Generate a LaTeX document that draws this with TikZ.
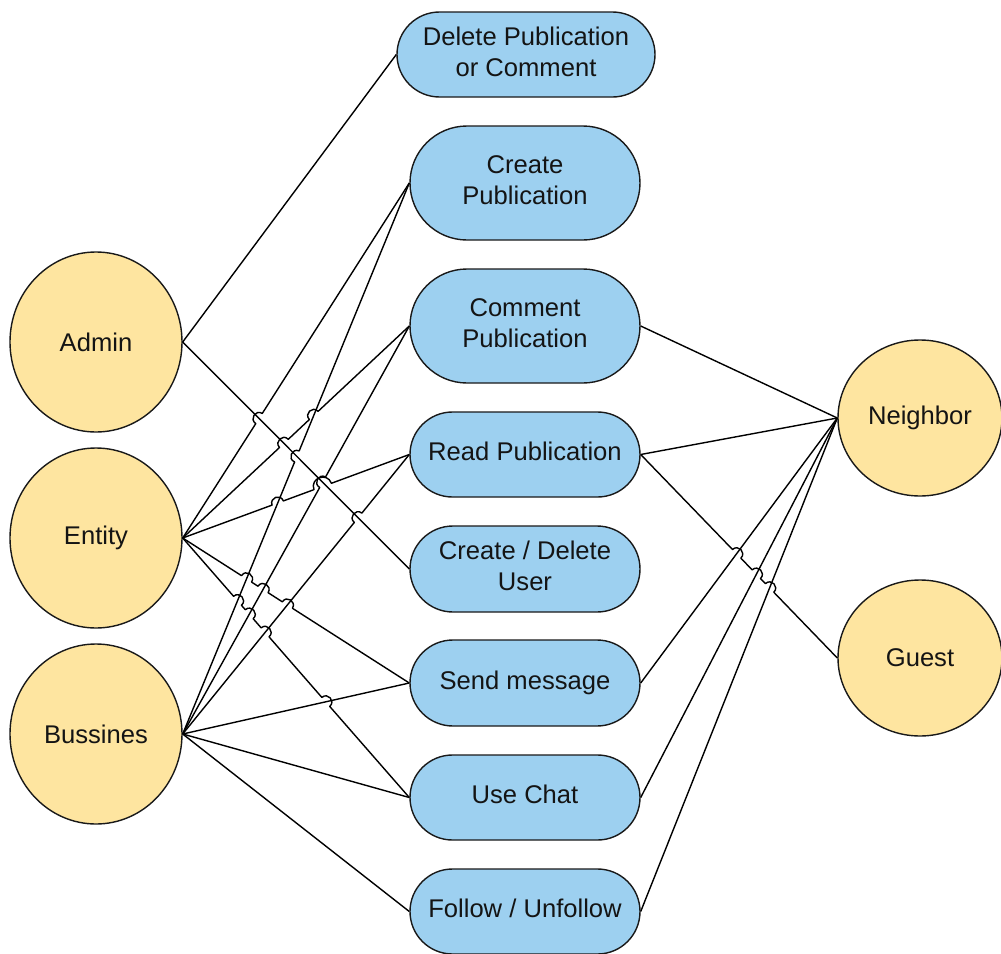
\documentclass[tikz,border=0pt]{standalone}
\usepackage{fontspec}
\setmainfont{Liberation Sans}
\usetikzlibrary{shapes.geometric,shapes.misc,calc}

\definecolor{actorfill}{RGB}{254,229,160}
\definecolor{casefill}{RGB}{157,208,240}
\definecolor{outline}{RGB}{25,25,25}
\definecolor{ink}{RGB}{20,20,20}

% text of a use case, kept out of the shape's size computation
\newcommand\uctext[1]{\makebox[0pt]{\begin{tabular}{@{}c@{}}#1\end{tabular}}}

% hop of one line over another: #1 name, #2--#3 hopping line, #4--#5 crossed line
\def\hoprad{3pt}
\newcommand\mkhop[5]{%
  \coordinate (#1) at (intersection of #2--#3 and #4--#5);
  \coordinate (#1a) at ($(#1)!\hoprad!(#2)$);
  \coordinate (#1b) at ($(#1)!\hoprad!(#3)$);
  \coordinate (#1p) at ($(#1a)!0.6667!90:(#1b)$);
  \coordinate (#1q) at ($(#1b)!0.6667!-90:(#1a)$);
}

\begin{document}
\begin{tikzpicture}[x=0.5pt,y=-0.5pt,
  label font/.style={font=\fontsize{12.8}{15.5}\selectfont, text=ink},
  actor/.style={ellipse, draw=outline, line width=0.7pt, fill=actorfill,
    inner sep=0pt, label font},
  bigactor/.style={actor, minimum width=86pt, minimum height=90pt},
  smallactor/.style={actor, minimum width=82pt, minimum height=78pt},
  usecase/.style={rounded rectangle, draw=outline, line width=0.7pt,
    fill=casefill, inner sep=0pt, minimum width=115pt, label font},
  conn/.style={draw=black, line width=0.7pt, line join=round}
]
\useasboundingbox (0,0) rectangle (1001,953);

% actors
\node[bigactor] (admin) at (96,342) {Admin};
\node[bigactor] (entity) at (96,538) {Entity};
\node[bigactor] (biz) at (96,734) {Bussines};
\node[smallactor] (neighbor) at (920,418) {Neighbor};
\node[smallactor] (guest) at (920,658) {Guest};

% use cases
\node[usecase, minimum width=129pt, minimum height=42.5pt] (dp) at (526,54.5)
  {\uctext{Delete Publication\\or Comment}};
\node[usecase, minimum height=57pt] (cp) at (525,183) {\uctext{Create\\Publication}};
\node[usecase, minimum height=57pt] (cm) at (525,326) {\uctext{Comment\\Publication}};
\node[usecase, minimum height=42.5pt] (rp) at (525,454.5) {\uctext{Read Publication}};
\node[usecase, minimum height=43pt] (cu) at (525,569) {\uctext{Create / Delete\\User}};
\node[usecase, minimum height=43pt] (sm) at (525,683) {\uctext{Send message}};
\node[usecase, minimum height=42.5pt] (uc) at (525,797.5) {\uctext{Use Chat}};
\node[usecase, minimum height=42.5pt] (fu) at (525,911.5) {\uctext{Follow / Unfollow}};

% crossing points where a later line hops over an earlier one
\mkhop{h1}{biz.east}{cp.west}{admin.east}{cu.west}
\mkhop{h2}{biz.east}{cm.west}{admin.east}{cu.west}
\mkhop{h3}{biz.east}{rp.west}{admin.east}{cu.west}
\mkhop{h4}{entity.east}{cp.west}{admin.east}{cu.west}
\mkhop{h5}{entity.east}{cm.west}{admin.east}{cu.west}
\mkhop{h6}{entity.east}{cm.west}{biz.east}{cp.west}
\mkhop{h7}{entity.east}{rp.west}{biz.east}{cp.west}
\mkhop{h8}{entity.east}{sm.west}{biz.east}{cp.west}
\mkhop{h9}{entity.east}{sm.west}{biz.east}{cm.west}
\mkhop{h10}{entity.east}{sm.west}{biz.east}{rp.west}
\mkhop{h11}{entity.east}{uc.west}{biz.east}{cp.west}
\mkhop{h12}{entity.east}{uc.west}{biz.east}{cm.west}
\mkhop{h13}{entity.east}{uc.west}{biz.east}{rp.west}
\mkhop{h14}{entity.east}{uc.west}{biz.east}{sm.west}
\mkhop{h15}{rp.east}{guest.west}{sm.east}{neighbor.west}
\mkhop{h16}{rp.east}{guest.west}{uc.east}{neighbor.west}
\mkhop{h17}{rp.east}{guest.west}{fu.east}{neighbor.west}

% one wide hop where two crossings lie close together
\coordinate (m1) at (intersection of entity.east--rp.west and biz.east--cm.west);
\coordinate (m2) at (intersection of entity.east--rp.west and admin.east--cu.west);
\coordinate (ma) at ($(m1)!\hoprad!(entity.east)$);
\coordinate (mb) at ($(m2)!\hoprad!(rp.west)$);
\coordinate (mp) at ($(ma)!0.6667!90:(mb)$);
\coordinate (mq) at ($(mb)!0.6667!-90:(ma)$);

% Admin
\draw[conn] (admin.east) -- (dp.west);
\draw[conn] (admin.east) -- (cu.west);

% Bussines
\draw[conn] (biz.east) -- (h1a) .. controls (h1p) and (h1q) .. (h1b) -- (cp.west);
\draw[conn] (biz.east) -- (h2a) .. controls (h2p) and (h2q) .. (h2b) -- (cm.west);
\draw[conn] (biz.east) -- (h3a) .. controls (h3p) and (h3q) .. (h3b) -- (rp.west);
\draw[conn] (biz.east) -- (sm.west);
\draw[conn] (biz.east) -- (uc.west);
\draw[conn] (biz.east) -- (fu.west);

% Entity
\draw[conn] (entity.east) -- (h4a) .. controls (h4p) and (h4q) .. (h4b) -- (cp.west);
\draw[conn] (entity.east) -- (h5a) .. controls (h5p) and (h5q) .. (h5b)
  -- (h6a) .. controls (h6p) and (h6q) .. (h6b) -- (cm.west);
\draw[conn] (entity.east) -- (h7a) .. controls (h7p) and (h7q) .. (h7b)
  -- (ma) .. controls (mp) and (mq) .. (mb) -- (rp.west);
\draw[conn] (entity.east) -- (h8a) .. controls (h8p) and (h8q) .. (h8b)
  -- (h9a) .. controls (h9p) and (h9q) .. (h9b)
  -- (h10a) .. controls (h10p) and (h10q) .. (h10b) -- (sm.west);
\draw[conn] (entity.east) -- (h11a) .. controls (h11p) and (h11q) .. (h11b)
  -- (h12a) .. controls (h12p) and (h12q) .. (h12b)
  -- (h13a) .. controls (h13p) and (h13q) .. (h13b)
  -- (h14a) .. controls (h14p) and (h14q) .. (h14b) -- (uc.west);

% Neighbor
\draw[conn] (cm.east) -- (neighbor.west);
\draw[conn] (rp.east) -- (neighbor.west);
\draw[conn] (sm.east) -- (neighbor.west);
\draw[conn] (uc.east) -- (neighbor.west);
\draw[conn] (fu.east) -- (neighbor.west);

% Guest
\draw[conn] (rp.east) -- (h15a) .. controls (h15p) and (h15q) .. (h15b)
  -- (h16a) .. controls (h16p) and (h16q) .. (h16b)
  -- (h17a) .. controls (h17p) and (h17q) .. (h17b) -- (guest.west);
\end{tikzpicture}
\end{document}
